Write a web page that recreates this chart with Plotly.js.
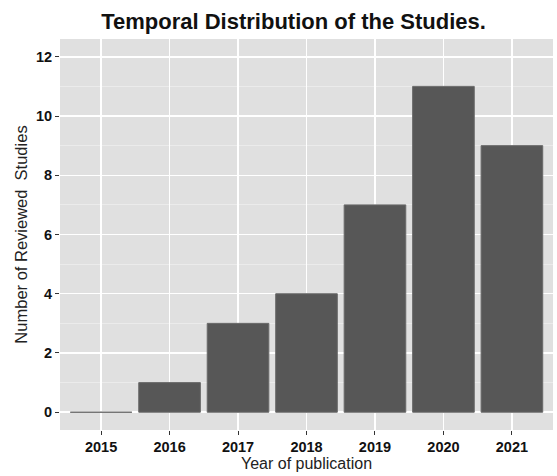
<!DOCTYPE html>
<html><head><meta charset="utf-8">
<script src="https://cdn.plot.ly/plotly-3.0.1.min.js"></script>
<style>html,body{margin:0;padding:0;background:#fff;}</style>
</head><body>
<div id="chart" style="width:557px;height:476px;"></div>
<script>
const years = ['2015','2016','2017','2018','2019','2020','2021'];
const studies = [0, 1, 3, 4, 7, 11, 9];
const yTicks = [0, 2, 4, 6, 8, 10, 12];

const trace = {
  type: 'bar', x: years, y: studies,
  marker: {color: '#575757', line: {color: '#6a6a6a', width: 1}},
  hoverinfo: 'x+y'
};
const layout = {
  width: 557, height: 476,
  margin: {l: 60, r: 4, t: 39, b: 46},
  paper_bgcolor: '#ffffff', plot_bgcolor: '#e0e0e0',
  bargap: 0.1,
  title: {text: '<b>Temporal Distribution of the Studies.</b>', x: 0.527, xanchor: 'center', y: 0.955, yanchor: 'middle',
          font: {family: 'Liberation Sans, Arial, sans-serif', size: 22, color: '#111'}},
  xaxis: {type: 'category', range: [-0.6, 6.6], showgrid: true, gridcolor: '#ffffff', gridwidth: 1.5,
          ticks: 'outside', ticklen: 4, tickcolor: '#333', tickwidth: 1, showline: false, zeroline: false,
          tickfont: {family: 'Liberation Sans, Arial, sans-serif', size: 14.5, color: '#111', weight: 'bold'},
          title: {text: 'Year of publication', standoff: 3, font: {family: 'Liberation Sans, Arial, sans-serif', size: 16, color: '#222'}}},
  yaxis: {range: [-0.6, 12.6], tickvals: yTicks, ticktext: yTicks.map(String), showgrid: true, gridcolor: '#ffffff', gridwidth: 1.5,
          minor: {dtick: 1, tick0: 1, showgrid: true, gridcolor: '#f0f0f0', gridwidth: 0.7},
          ticks: 'outside', ticklen: 4, tickcolor: '#333', tickwidth: 1, showline: false, zeroline: false,
          tickfont: {family: 'Liberation Sans, Arial, sans-serif', size: 14.5, color: '#111', weight: 'bold'},
          title: {text: 'Number of Reviewed  Studies', standoff: 4, font: {family: 'Liberation Sans, Arial, sans-serif', size: 16.5, color: '#222'}}},
  showlegend: false
};
Plotly.newPlot('chart', [trace], layout, {displayModeBar: false, staticPlot: true});
</script>
</body></html>
